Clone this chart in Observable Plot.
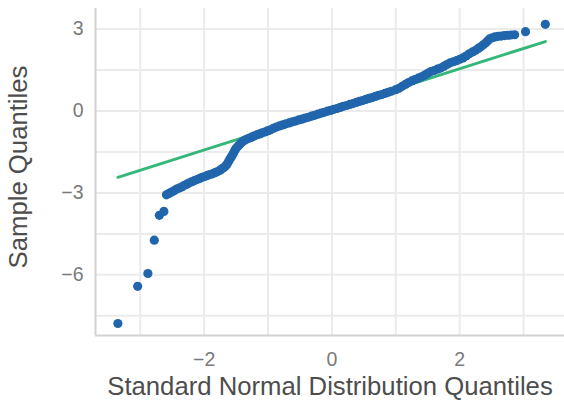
<!DOCTYPE html>
<html>
<head>
<meta charset="utf-8">
<script src="https://cdn.jsdelivr.net/npm/d3@7"></script>
<script src="https://cdn.jsdelivr.net/npm/@observablehq/plot@0.6"></script>
<style>
  html, body { margin: 0; padding: 0; background: #ffffff; }
  #chart { width: 564px; height: 405px; }
</style>
</head>
<body>
<div id="chart"></div>
<script>
// Theoretical (standard normal) quantiles
const theoX = [
  -3.35, -3.04, -2.88, -2.78, -2.70, -2.63,
  -2.59, -2.55, -2.51, -2.47, -2.43, -2.39, -2.35, -2.31, -2.27, -2.23,
  -2.19, -2.15, -2.11, -2.07, -2.03, -1.99, -1.95, -1.91, -1.87, -1.83,
  -1.79, -1.75, -1.72, -1.69, -1.66, -1.64, -1.62, -1.60, -1.58, -1.56,
  -1.54, -1.52, -1.50, -1.47, -1.44, -1.41, -1.37, -1.33, -1.29, -1.25,
  -1.21, -1.17, -1.13, -1.09, -1.05, -1.01,
  -0.97, -0.92, -0.87, -0.82, -0.77, -0.72, -0.67, -0.62, -0.57, -0.52,
  -0.47, -0.42, -0.37, -0.32, -0.27, -0.22, -0.17, -0.12, -0.07, -0.02,
  0.03, 0.08, 0.13, 0.18, 0.23, 0.28, 0.33, 0.38, 0.43, 0.48,
  0.53, 0.58, 0.63, 0.68, 0.73, 0.78, 0.83, 0.88, 0.93,
  1.00, 1.05, 1.10, 1.15, 1.20, 1.25, 1.30, 1.35, 1.40, 1.45,
  1.50, 1.55, 1.60, 1.65, 1.70, 1.75, 1.80, 1.85, 1.90, 1.95,
  2.00, 2.05, 2.10, 2.15, 2.20, 2.25, 2.29, 2.33, 2.37, 2.41,
  2.44, 2.47, 2.51, 2.55, 2.60, 2.65, 2.70, 2.75, 2.80, 2.86,
  3.03, 3.34
];
// Sample quantiles
const sampleY = [
  -7.78, -6.42, -5.95, -4.73, -3.82, -3.68,
  -3.07, -3.02, -2.97, -2.92, -2.86, -2.82, -2.78, -2.72, -2.68, -2.63,
  -2.59, -2.55, -2.51, -2.47, -2.43, -2.40, -2.36, -2.33, -2.30, -2.26,
  -2.22, -2.17, -2.12, -2.07, -2.01, -1.94, -1.86, -1.78, -1.70, -1.62,
  -1.54, -1.45, -1.37, -1.29, -1.22, -1.15, -1.08, -1.03, -0.99, -0.95,
  -0.91, -0.87, -0.84, -0.80, -0.77, -0.73,
  -0.70, -0.64, -0.59, -0.55, -0.51, -0.47, -0.44, -0.40, -0.37, -0.33,
  -0.30, -0.26, -0.23, -0.19, -0.16, -0.12, -0.08, -0.05, -0.01, 0.02,
  0.06, 0.09, 0.13, 0.17, 0.20, 0.24, 0.27, 0.31, 0.35, 0.38,
  0.42, 0.46, 0.49, 0.53, 0.57, 0.60, 0.64, 0.68, 0.72,
  0.78, 0.83, 0.90, 0.97, 1.04, 1.10, 1.15, 1.20, 1.25, 1.31,
  1.38, 1.44, 1.48, 1.53, 1.57, 1.63, 1.70, 1.76, 1.80, 1.84,
  1.89, 1.94, 2.01, 2.09, 2.16, 2.22, 2.29, 2.35, 2.42, 2.50,
  2.57, 2.64, 2.68, 2.71, 2.73, 2.74, 2.76, 2.77, 2.78, 2.79,
  2.90, 3.17
];
// Reference (qq) line end points
const lineX = [-3.35, 3.34];
const lineY = [-2.43, 2.54];

// Tick values
const xMajor = [-2, 0, 2];
const xMinor = [-3, -1, 1, 3];
const yMajor = [-6, -3, 0, 3];
const yMinor = [-7.5, -4.5, -1.5, 1.5];

const xTitle = "Standard Normal Distribution Quantiles";
const yTitle = "Sample Quantiles";

const points = theoX.map((x, i) => ({x, y: sampleY[i]}));
const qqLine = lineX.map((x, i) => ({x, y: lineY[i]}));

const xDomain = [-3.70, 3.64];
const yDomain = [-8.22, 3.75];
const gridColor = "#ebebeb";

const chart = Plot.plot({
  width: 564,
  height: 405,
  marginLeft: 95,
  marginRight: 0,
  marginTop: 8,
  marginBottom: 70,
  style: {fontFamily: "'Liberation Sans', Arial, Helvetica, sans-serif", background: "#ffffff"},
  x: {domain: xDomain},
  y: {domain: yDomain},
  marks: [
    Plot.gridX(xMinor, {stroke: gridColor, strokeOpacity: 1, strokeWidth: 2}),
    Plot.gridX(xMajor, {stroke: gridColor, strokeOpacity: 1, strokeWidth: 2}),
    Plot.gridY(yMinor, {stroke: gridColor, strokeOpacity: 1, strokeWidth: 2}),
    Plot.gridY(yMajor, {stroke: gridColor, strokeOpacity: 1, strokeWidth: 2}),
    Plot.ruleX([xDomain[0]], {stroke: "#d2d2d2", strokeWidth: 2}),
    Plot.ruleY([yDomain[0]], {stroke: "#d2d2d2", strokeWidth: 2}),
    Plot.axisX(xMajor, {tickSize: 0, tickPadding: 17, fontSize: 19.5, color: "#7a7a7a", label: null}),
    Plot.axisY(yMajor, {tickSize: 0, tickPadding: 12, fontSize: 19.5, color: "#7a7a7a", label: null}),
    Plot.line(qqLine, {x: "x", y: "y", stroke: "#35b779", strokeWidth: 3}),
    Plot.dot(points, {x: "x", y: "y", r: 4.6, fill: "#2166ac", stroke: "none"}),
    Plot.text([xTitle], {text: d => d, frameAnchor: "bottom", dy: 59, fontSize: 25.7, fill: "#4d4d4d"}),
    Plot.text([yTitle], {text: d => d, frameAnchor: "left", textAnchor: "middle", rotate: -90, dx: -77, dy: -5, fontSize: 25.7, fill: "#4d4d4d"})
  ]
});
document.getElementById("chart").appendChild(chart);
</script>
</body>
</html>
